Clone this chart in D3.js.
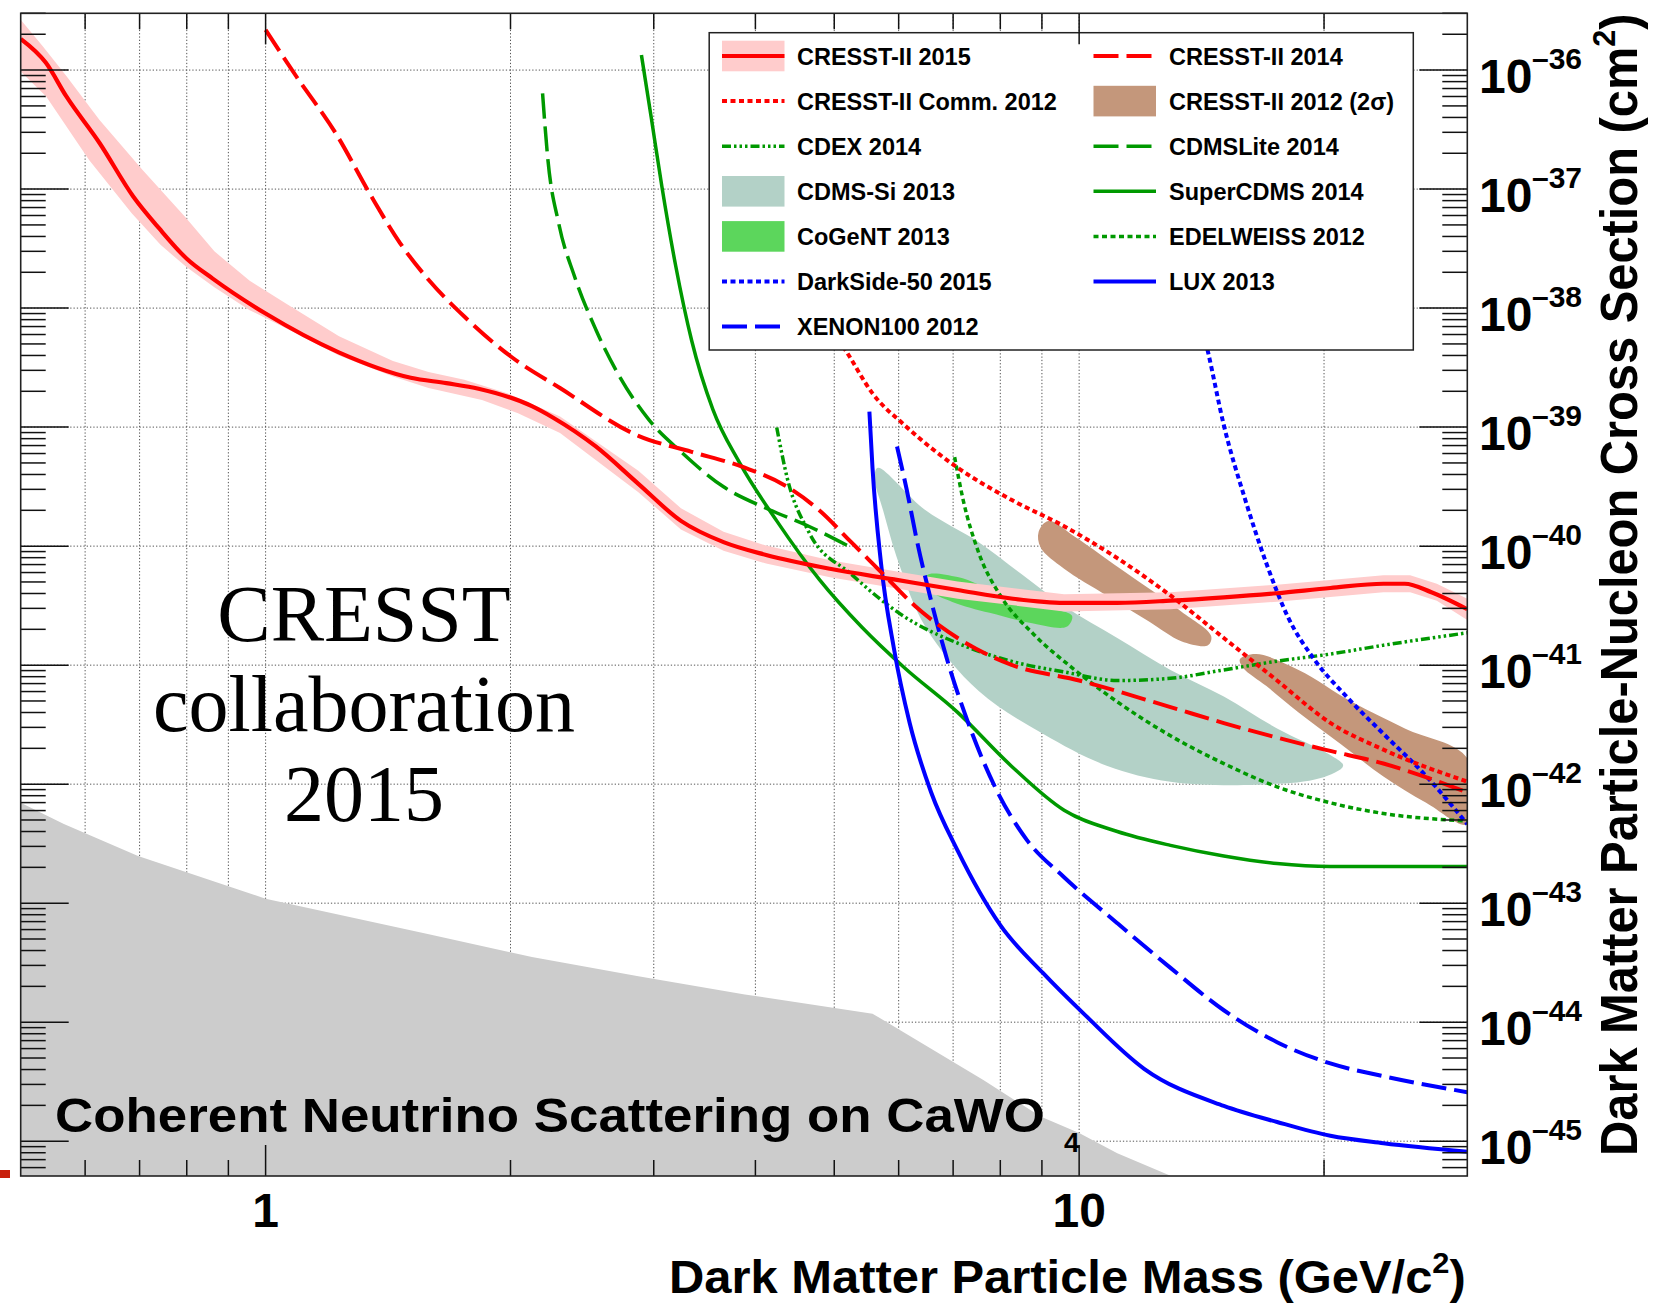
<!DOCTYPE html>
<html>
<head>
<meta charset="utf-8">
<script src="https://cdn.jsdelivr.net/npm/d3@7"></script>
<style>
  body { margin: 0; background: #fff; }
  svg { display: block; }
  text { font-family: "Liberation Sans", Arial, sans-serif; font-weight: bold; }
</style>
</head>
<body>
<svg id="svg"></svg>
<script>
// ---- data (mass in GeV/c^2, cross section in cm^2) ----

let massRange = [0.5, 30];
let sigmaRange = [5.1e-46, 3.0e-36];

let xLabelTicks = [1, 10];
let xOtherTicks = [0.6, 0.7, 0.8, 0.9, 2, 3, 4, 5, 6, 7, 8, 9, 20];
let yDecades = [-36, -37, -38, -39, -40, -41, -42, -43, -44, -45];

let cresst2015 = [[0.5,1.83e-36],[0.537,1.15e-36],[0.569,6.0e-37],[0.625,2.44e-37],[0.6875,8.67e-38],[0.74,4.67e-38],[0.80,2.6e-38],[0.861,1.77e-38],[1.0,9.0e-39],[1.23,4.25e-39],[1.508,2.6e-39],[1.668,2.34e-39],[1.827,2.1e-39],[2.125,1.5e-39],[2.257,1.2e-39],[2.546,6.88e-40],[2.872,3.34e-40],[3.24,1.63e-40],[3.655,1.08e-40],[4.123,8.43e-41],[4.94,6.45e-41],[5.92,5.25e-41],[7.09,4.28e-41],[8.25,3.63e-41],[9.58,3.34e-41],[11.14,3.34e-41],[12.95,3.48e-41],[15.06,3.71e-41],[17.51,4.02e-41],[20.36,4.45e-41],[23.66,4.83e-41],[25.13,4.83e-41],[27.1,4.1e-41],[30,2.95e-41]];
let cresst2015Upper = [[0.5,2.65e-36],[0.5325,1.58e-36],[0.569,8.9e-37],[0.625,3.8e-37],[0.706,1.45e-37],[0.797,5.8e-38],[0.865,3.0e-38],[0.956,1.7e-38],[1.058,1.1e-38],[1.231,5.8e-39],[1.434,3.6e-39],[1.586,2.9e-39],[1.755,2.5e-39],[1.981,1.93e-39],[2.301,1.23e-39],[2.872,4.29e-40],[3.24,2.08e-40],[3.655,1.32e-40],[4.123,1.01e-40],[4.94,7.6e-41],[5.92,6.19e-41],[7.09,5.04e-41],[9.583,3.94e-41],[12.95,4.1e-41],[17.51,4.74e-41],[23.66,5.7e-41],[25.52,5.7e-41],[27.52,4.83e-41],[30,3.62e-41]];
let cresst2015Lower = [[0.5,9.73e-37],[0.5374,6.0e-37],[0.6068,1.76e-37],[0.6846,6.28e-38],[0.7427,3.4e-38],[0.80,2.2e-38],[0.865,1.5e-38],[0.956,9.6e-39],[1.058,6.79e-39],[1.231,4.0e-39],[1.434,2.66e-39],[1.586,2.13e-39],[1.845,1.69e-39],[2.043,1.31e-39],[2.301,8.91e-40],[2.872,2.84e-40],[3.24,1.38e-40],[3.655,9.14e-41],[4.123,7.14e-41],[4.94,5.47e-41],[5.92,4.45e-41],[7.09,3.62e-41],[9.583,2.83e-41],[12.95,2.95e-41],[17.51,3.41e-41],[23.66,4.1e-41],[25.52,4.1e-41],[27.52,3.48e-41],[30,2.4e-41]];

let cresst2014 = [[1.0,2.18e-36],[1.091,8.83e-37],[1.219,2.96e-37],[1.349,8.67e-38],[1.463,3.52e-38],[1.586,1.73e-38],[1.755,8.49e-39],[2.002,3.92e-39],[2.301,2.13e-39],[2.872,8.45e-40],[3.339,6.2e-40],[3.882,4.56e-40],[4.378,3.15e-40],[4.792,2.0e-40],[5.246,1.08e-40],[5.742,5.82e-41],[6.285,3.14e-41],[7.09,1.69e-41],[8.245,1.01e-41],[10,7.43e-42],[12.95,4.44e-42],[15.06,3.26e-42],[20.04,1.95e-42],[23.66,1.49e-42],[30,8.55e-43]];

let cresstComm2012 = [[4.651,1.22e-38],[5.168,4.38e-39],[5.572,1.92e-39],[6.099,1.04e-39],[7.09,4.56e-40],[8.245,2.46e-40],[9.583,1.47e-40],[11.14,7.92e-41],[12.95,3.85e-41],[15.06,1.69e-41],[17.51,7.43e-42],[20.36,3.27e-42],[23.66,1.95e-42],[30,1.05e-42]];

let cresst2012RegionA = [[8.917,1.32e-40],[9.162,1.63e-40],[9.879,1.2e-40],[11.48,5.82e-41],[13.35,2.83e-41],[14.53,1.76e-41],[14.4,1.47e-41],[13.35,1.59e-41],[12.2,2.31e-41],[10.81,3.85e-41],[9.583,6.46e-41],[8.968,9.73e-41]];
let cresst2012RegionB = [[15.76,1.12e-41],[16.5,1.24e-41],[18.61,9.12e-42],[21.63,4.92e-42],[25.14,2.94e-42],[30,1.65e-42],[30,4.61e-43],[26.7,6.97e-43],[23.66,1.16e-42],[20.98,2.16e-42],[18.61,4.0e-42],[16.99,6.68e-42],[15.91,9.48e-42]];

let cdex2014 = [[4.249,9.93e-40],[4.378,3.71e-40],[4.651,1.32e-40],[5.246,5.82e-41],[6.099,2.55e-41],[7.09,1.53e-41],[8.245,1.08e-41],[9.583,8.77e-42],[11.14,7.43e-42],[12.95,7.75e-42],[15.06,9.12e-42],[17.51,1.08e-41],[20.36,1.24e-41],[23.66,1.47e-41],[30,1.87e-41]];

let cdmsLite2014 = [[2.19,6.37e-37],[2.223,1.78e-37],[2.292,5.18e-38],[2.397,1.85e-38],[2.546,6.61e-39],[2.704,2.9e-39],[2.96,1.15e-39],[3.24,6.21e-40],[3.655,3.15e-40],[4.123,2.08e-40],[4.651,1.47e-40],[5.246,9.73e-41]];

let cdmsSi2013 = [[5.655,4.56e-40],[6.476,2.0e-40],[7.526,1.08e-40],[8.492,5.82e-41],[9.583,3.14e-41],[11.14,1.69e-41],[12.95,9.12e-42],[15.06,5.46e-42],[17.51,2.94e-42],[20.36,1.76e-42],[21.11,1.43e-42],[19.76,1.12e-42],[16.49,9.89e-43],[12.95,1.05e-42],[10.81,1.43e-42],[9.025,2.65e-42],[7.526,6.05e-42],[6.476,2.08e-41],[6.004,7.14e-41],[5.741,2.0e-40],[5.605,3.71e-40]];

let cogent2013 = [[6.5,5.7e-41],[7.09,5.5e-41],[8.0,4.0e-41],[9.025,3.1e-41],[9.8,2.6e-41],[9.65,2.1e-41],[8.756,2.25e-41],[7.761,2.75e-41],[6.984,3.4e-41],[6.55,4.3e-41]];

let superCdms2014 = [[2.897,1.34e-36],[2.978,4.04e-37],[3.069,1.06e-37],[3.192,2.27e-38],[3.339,5.37e-39],[3.546,1.41e-39],[3.824,5.03e-40],[4.249,1.63e-40],[4.792,5.25e-41],[5.408,2.08e-41],[6.099,9.5e-42],[7.09,4.01e-42],[8.245,1.43e-42],[9.583,6.04e-43],[11.14,4.0e-43],[12.95,3.06e-43],[15.06,2.49e-43],[17.51,2.15e-43],[20.36,2.03e-43],[30,2.03e-43]];

let edelweiss2012 = [[7.03,5.6e-40],[7.2,2.46e-40],[7.526,8.79e-41],[8.0,3.85e-41],[8.756,1.87e-41],[9.877,9.12e-42],[11.14,4.92e-42],[12.95,2.55e-42],[15.06,1.49e-42],[17.51,9.49e-43],[20.36,6.97e-43],[23.66,5.67e-43],[30,4.91e-43]];

let darkSide2015 = [[13.97,9.95e-39],[14.39,4.38e-39],[15.06,1.04e-39],[16.0,2.46e-40],[16.99,7.14e-41],[18.05,2.55e-41],[19.45,1.12e-41],[21.3,5.46e-42],[23.66,2.65e-42],[26.7,1.17e-42],[30,4.61e-43]];

let lux2013 = [[5.523,1.35e-39],[5.572,4.55e-40],[5.708,7.14e-41],[5.92,1.38e-41],[6.19,3.26e-42],[6.577,8.55e-43],[7.09,2.76e-43],[8.0,6.53e-44],[9.025,2.59e-44],[10.18,1.14e-44],[12.02,4.06e-45],[15.06,1.98e-45],[17.51,1.45e-45],[20.36,1.11e-45],[23.66,9.62e-46],[30,8.16e-46]];

let xenon2012 = [[5.972,6.88e-40],[6.136,3.02e-40],[6.324,1.08e-40],[6.577,3.48e-41],[6.88,1.12e-41],[7.307,3.26e-42],[7.88,9.49e-43],[8.627,3.39e-43],[9.583,1.65e-43],[11.14,6.79e-44],[12.95,2.86e-44],[15.06,1.26e-44],[17.51,6.79e-45],[20.36,4.5e-45],[23.66,3.52e-45],[30,2.58e-45]];

let neutrinoFloor = [[0.5,6.98e-43],[0.565,4.62e-43],[0.697,2.49e-43],[1.0,1.09e-43],[1.572,5.55e-44],[2.125,3.53e-44],[2.872,2.43e-44],[3.882,1.71e-44],[5.572,1.18e-44],[7.625,3.27e-45],[8.965,1.61e-45],[10,1.17e-45],[11.14,7.92e-46],[12.95,5.12e-46]];

let legendLeft = ["CRESST-II 2015", "CRESST-II Comm. 2012", "CDEX 2014", "CDMS-Si 2013", "CoGeNT 2013", "DarkSide-50 2015", "XENON100 2012"];
let legendRight = ["CRESST-II 2014", "CRESST-II 2012 (2\u03c3)", "CDMSLite 2014", "SuperCDMS 2014", "EDELWEISS 2012", "LUX 2013"];

// ---- styles ----
let red = "#ff0000", green = "#009900", blue = "#0000ff";
let dashLong = "25,8", dotted = "5,3.5", dashDot = "9,3,2.5,3,2.5,3,2.5,3";

let lines = {
  "CRESST-II 2015": {data: cresst2015, color: red, width: 4.2, dash: null},
  "CRESST-II 2014": {data: cresst2014, color: red, width: 4, dash: dashLong},
  "CRESST-II Comm. 2012": {data: cresstComm2012, color: red, width: 4, dash: dotted},
  "CDEX 2014": {data: cdex2014, color: green, width: 3.5, dash: dashDot},
  "CDMSLite 2014": {data: cdmsLite2014, color: green, width: 3.5, dash: dashLong},
  "SuperCDMS 2014": {data: superCdms2014, color: green, width: 3.5, dash: null},
  "EDELWEISS 2012": {data: edelweiss2012, color: green, width: 3.5, dash: dotted},
  "DarkSide-50 2015": {data: darkSide2015, color: blue, width: 4, dash: dotted},
  "LUX 2013": {data: lux2013, color: blue, width: 4, dash: null},
  "XENON100 2012": {data: xenon2012, color: blue, width: 4, dash: dashLong}
};
let fills = {
  "CRESST-II 2015": "#ffcccc",
  "CDMS-Si 2013": "#b3d1c7",
  "CoGeNT 2013": "#5cd65c",
  "CRESST-II 2012 (2\u03c3)": "#c4977b"
};

// ---- layout ----
let width = 1668;
let height = 1307;
let frame = {left: 20.7, right: 1467.3, top: 13.3, bottom: 1176};

let svg = d3.select("#svg").attr("width", width).attr("height", height);
svg.append("rect").attr("width", width).attr("height", height).attr("fill", "#fff");

let xScale = d3.scaleLog().domain(massRange).range([frame.left, frame.right]);
let yScale = d3.scaleLog().domain(sigmaRange).range([frame.bottom, frame.top]);

svg.append("clipPath").attr("id", "clip")
  .append("rect")
  .attr("x", frame.left).attr("y", frame.top)
  .attr("width", frame.right - frame.left).attr("height", frame.bottom - frame.top);

// gridlines
let grid = svg.append("g").attr("stroke", "#555").attr("stroke-width", 1).attr("stroke-dasharray", "1.3,2");
xLabelTicks.concat(xOtherTicks).forEach((m) => {
  grid.append("line").attr("x1", xScale(m)).attr("x2", xScale(m)).attr("y1", frame.top).attr("y2", frame.bottom);
});
yDecades.forEach((d) => {
  let yy = yScale(Math.pow(10, d));
  grid.append("line").attr("x1", frame.left).attr("x2", frame.right).attr("y1", yy).attr("y2", yy);
});

let plot = svg.append("g").attr("clip-path", "url(#clip)");

let lineGen = d3.line()
  .x((d) => xScale(d[0]))
  .y((d) => yScale(d[1]))
  .curve(d3.curveMonotoneX);
let polyGen = d3.line()
  .x((d) => xScale(d[0]))
  .y((d) => yScale(d[1]))
  .curve(d3.curveCatmullRomClosed.alpha(0.5));

// coherent neutrino background
plot.append("path")
  .attr("d", d3.area()
    .x((d) => xScale(d[0]))
    .y0(frame.bottom + 2)
    .y1((d) => yScale(d[1]))(neutrinoFloor))
  .attr("fill", "#cccccc");

// signal regions
plot.append("path").attr("d", polyGen(cdmsSi2013)).attr("fill", fills["CDMS-Si 2013"]);
plot.append("path").attr("d", polyGen(cogent2013)).attr("fill", fills["CoGeNT 2013"]);
plot.append("path").attr("d", polyGen(cresst2012RegionA)).attr("fill", fills["CRESST-II 2012 (2\u03c3)"]);
plot.append("path").attr("d", polyGen(cresst2012RegionB)).attr("fill", fills["CRESST-II 2012 (2\u03c3)"]);

// CRESST-II 2015 band
let band = cresst2015Upper.concat(cresst2015Lower.slice().reverse());
plot.append("path")
  .attr("d", d3.line().x((d) => xScale(d[0])).y((d) => yScale(d[1])).curve(d3.curveLinearClosed)(band))
  .attr("fill", fills["CRESST-II 2015"]);

// exclusion limits
let drawOrder = ["SuperCDMS 2014", "CDMSLite 2014", "EDELWEISS 2012", "CDEX 2014", "LUX 2013", "XENON100 2012",
  "DarkSide-50 2015", "CRESST-II Comm. 2012", "CRESST-II 2014", "CRESST-II 2015"];
drawOrder.forEach((name) => {
  let s = lines[name];
  plot.append("path")
    .attr("d", lineGen(s.data))
    .attr("fill", "none")
    .attr("stroke", s.color)
    .attr("stroke-width", s.width)
    .attr("stroke-dasharray", s.dash);
});

// annotation
[["CRESST", 641], ["collaboration", 731], ["2015", 821]].forEach((t) => {
  svg.append("text").attr("x", 364).attr("y", t[1]).attr("font-size", 80).attr("text-anchor", "middle")
    .style("font-weight", "normal").style("font-family", "'Liberation Serif', 'Times New Roman', serif").text(t[0]);
});

let neuG = svg.append("g").attr("transform", "translate(55,1132)");
let neuT = neuG.append("text").attr("font-size", 49).attr("fill", "#000");
neuT.append("tspan").text("Coherent Neutrino Scattering on CaWO");
let neuW = neuT.node().getBBox().width;
neuT.attr("transform", "scale(" + (990 / neuW) + ",1)");
svg.append("text").attr("x", 1064).attr("y", 1152).attr("font-size", 28).text("4");

// legend
let leg = {left: 709.2, right: 1413.3, top: 32.7, bottom: 350, row0: 56, dy: 45.1};
let legend = svg.append("g");
legend.append("rect")
  .attr("x", leg.left).attr("y", leg.top)
  .attr("width", leg.right - leg.left).attr("height", leg.bottom - leg.top)
  .attr("fill", "#fff").attr("stroke", "#222").attr("stroke-width", 1.5);

let drawEntry = (name, col, row) => {
  let sx = col === 0 ? 722 : 1093.5;
  let tx = col === 0 ? 797 : 1169;
  let cy = leg.row0 + row * leg.dy;
  if (fills[name]) {
    legend.append("rect").attr("x", sx).attr("y", cy - 15.3).attr("width", 62.5).attr("height", 30.6)
      .attr("fill", fills[name]);
  }
  if (lines[name]) {
    let s = lines[name];
    legend.append("line").attr("x1", sx).attr("x2", sx + 62.5).attr("y1", cy).attr("y2", cy)
      .attr("stroke", s.color).attr("stroke-width", s.width).attr("stroke-dasharray", s.dash);
  }
  legend.append("text").attr("x", tx).attr("y", cy + 8.5).attr("font-size", 23.5).text(name);
};
legendLeft.forEach((n, i) => drawEntry(n, 0, i));
legendRight.forEach((n, i) => drawEntry(n, 1, i));

// axis ticks (drawn over everything, like ROOT)
let ticks = svg.append("g").attr("stroke", "#111").attr("stroke-width", 1.5);
let yMinor = [];
for (let k = -46; k <= -36; k++) {
  for (let m = 2; m <= 9; m++) {
    let v = m * Math.pow(10, k);
    if (v > sigmaRange[0] && v < sigmaRange[1]) yMinor.push(v);
  }
}
yDecades.forEach((d) => {
  let yy = yScale(Math.pow(10, d));
  ticks.append("line").attr("x1", frame.left).attr("x2", frame.left + 48).attr("y1", yy).attr("y2", yy);
  ticks.append("line").attr("x1", frame.right).attr("x2", frame.right - 48).attr("y1", yy).attr("y2", yy);
});
yMinor.forEach((v) => {
  let yy = yScale(v);
  ticks.append("line").attr("x1", frame.left).attr("x2", frame.left + 25).attr("y1", yy).attr("y2", yy);
  ticks.append("line").attr("x1", frame.right).attr("x2", frame.right - 25).attr("y1", yy).attr("y2", yy);
});
xLabelTicks.forEach((m) => {
  let xx = xScale(m);
  ticks.append("line").attr("x1", xx).attr("x2", xx).attr("y1", frame.bottom).attr("y2", frame.bottom - 31);
  ticks.append("line").attr("x1", xx).attr("x2", xx).attr("y1", frame.top).attr("y2", frame.top + 31);
});
xOtherTicks.forEach((m) => {
  let xx = xScale(m);
  ticks.append("line").attr("x1", xx).attr("x2", xx).attr("y1", frame.bottom).attr("y2", frame.bottom - 16);
  ticks.append("line").attr("x1", xx).attr("x2", xx).attr("y1", frame.top).attr("y2", frame.top + 16);
});

svg.append("rect")
  .attr("x", frame.left).attr("y", frame.top)
  .attr("width", frame.right - frame.left).attr("height", frame.bottom - frame.top)
  .attr("fill", "none").attr("stroke", "#222").attr("stroke-width", 1.6);

// tick labels
xLabelTicks.forEach((m) => {
  svg.append("text").attr("x", xScale(m)).attr("y", 1227).attr("text-anchor", "middle")
    .attr("font-size", 48).text(m);
});
yDecades.forEach((d) => {
  let yy = yScale(Math.pow(10, d));
  svg.append("text").attr("x", 1479).attr("y", yy + 23).attr("font-size", 48).text("10");
  svg.append("text").attr("x", 1532).attr("y", yy - 1).attr("font-size", 30).text("\u2013" + Math.abs(d));
});

// axis titles
let xTitleG = svg.append("g").attr("transform", "translate(669,1293)");
let xTitle = xTitleG.append("text").attr("font-size", 46);
xTitle.append("tspan").text("Dark Matter Particle Mass (GeV/c");
xTitle.append("tspan").attr("font-size", 29).attr("dy", -20).text("2");
xTitle.append("tspan").attr("dy", 20).text(")");
xTitle.attr("transform", "scale(" + (797 / xTitle.node().getBBox().width) + ",1)");

let yTitleG = svg.append("g").attr("transform", "translate(1637,1156) rotate(-90)");
let yTitle = yTitleG.append("text").attr("font-size", 51);
yTitle.append("tspan").text("Dark Matter Particle-Nucleon Cross Section (cm");
yTitle.append("tspan").attr("font-size", 32).attr("dy", -22).text("2");
yTitle.append("tspan").attr("dy", 22).text(")");
yTitle.attr("transform", "scale(" + (1143 / yTitle.node().getBBox().width) + ",1)");

// small red mark at the lower left edge of the picture
svg.append("rect").attr("x", 0).attr("y", 1170).attr("width", 10).attr("height", 8).attr("fill", "#c8200c");
</script>
</body>
</html>
